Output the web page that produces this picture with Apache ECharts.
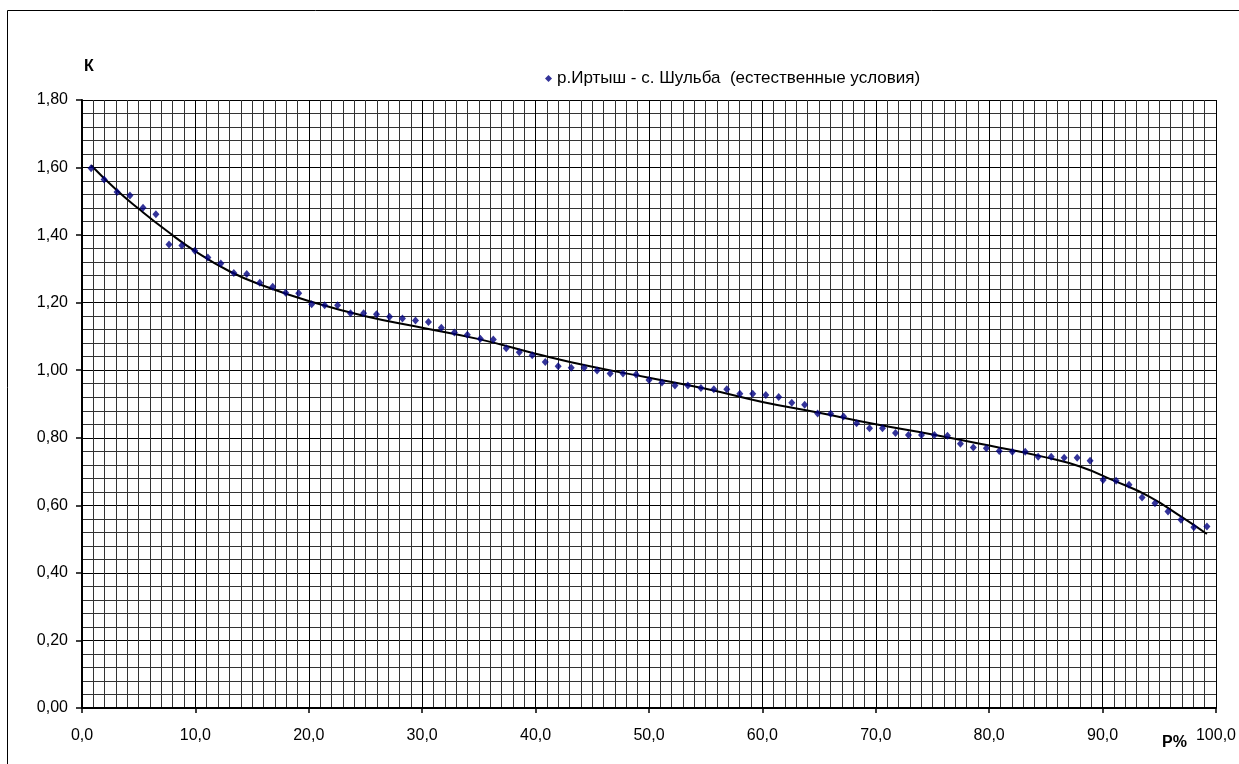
<!DOCTYPE html>
<html>
<head>
<meta charset="utf-8">
<script src="https://cdn.jsdelivr.net/npm/echarts@6/dist/echarts.min.js"></script>
<style>
html, body { margin: 0; padding: 0; background: #fff; }
#chart { width: 1239px; height: 764px; }
</style>
</head>
<body>
<div id="chart"></div>
<script>
var seriesName = 'р.Иртыш - с. Шульба  (естественные условия)';

// обеспеченность P, %
var pValues = [
    0.80, 1.95, 3.09, 4.23, 5.38, 6.52, 7.67, 8.81, 9.95, 11.10,
    12.24, 13.39, 14.53, 15.68, 16.82, 17.96, 19.11, 20.25, 21.40, 22.54,
    23.68, 24.83, 25.97, 27.12, 28.26, 29.41, 30.55, 31.69, 32.84, 33.98,
    35.13, 36.27, 37.41, 38.56, 39.70, 40.85, 41.99, 43.14, 44.28, 45.42,
    46.57, 47.71, 48.86, 50.00, 51.14, 52.29, 53.43, 54.58, 55.72, 56.86,
    58.01, 59.15, 60.30, 61.44, 62.59, 63.73, 64.87, 66.02, 67.16, 68.31,
    69.45, 70.59, 71.74, 72.88, 74.03, 75.17, 76.32, 77.46, 78.60, 79.75,
    80.89, 82.04, 83.18, 84.32, 85.47, 86.61, 87.76, 88.90, 90.05, 91.19,
    92.33, 93.48, 94.62, 95.77, 96.91, 98.05, 99.20
];
// модульный коэффициент K
var kValues = [
    1.598, 1.565, 1.528, 1.517, 1.481, 1.462, 1.372, 1.369, 1.354, 1.334,
    1.316, 1.288, 1.285, 1.259, 1.247, 1.229, 1.228, 1.195, 1.192, 1.192,
    1.169, 1.169, 1.166, 1.158, 1.153, 1.147, 1.143, 1.126, 1.112, 1.105,
    1.093, 1.091, 1.065, 1.053, 1.044, 1.024, 1.012, 1.007, 1.007, 0.999,
    0.990, 0.990, 0.987, 0.971, 0.964, 0.955, 0.955, 0.947, 0.944, 0.944,
    0.930, 0.930, 0.927, 0.921, 0.904, 0.898, 0.872, 0.871, 0.863, 0.843,
    0.828, 0.828, 0.814, 0.808, 0.808, 0.808, 0.806, 0.782, 0.771, 0.769,
    0.761, 0.759, 0.759, 0.744, 0.744, 0.741, 0.741, 0.732, 0.675, 0.673,
    0.661, 0.623, 0.606, 0.582, 0.557, 0.535, 0.537
];

// линия тренда
var trendP = [0.8, 3, 5, 7.5, 10, 13, 16, 20, 25, 30, 35, 40, 45, 50, 55, 60, 65, 70, 75, 80, 85, 88, 91, 94, 97, 99.2];
var trendK = [1.607, 1.535, 1.478, 1.412, 1.352, 1.293, 1.25, 1.205, 1.16, 1.126, 1.092, 1.049, 1.01, 0.978, 0.945, 0.906, 0.874, 0.84, 0.81, 0.777, 0.742, 0.715, 0.673, 0.628, 0.565, 0.515];

var xMin = 0, xMax = 100, xStep = 10;
var yMin = 0, yMax = 1.8, yStep = 0.2;

var font = '"Liberation Sans", Arial, sans-serif';

var points = pValues.map(function (p, i) { return [p, kValues[i]]; });
var trend = trendP.map(function (p, i) { return [p, trendK[i]]; });

var myChart = echarts.init(document.getElementById('chart'));
var option = {
    backgroundColor: '#fff',
    animation: false,
    textStyle: { fontFamily: font },
    graphic: [
        {
            type: 'rect',
            z: -10,
            shape: { x: 7.5, y: 10.5, width: 1400, height: 900 },
            style: { fill: 'none', stroke: '#000', lineWidth: 1 }
        },
        {
            type: 'text',
            left: 84, top: 59,
            style: { text: 'К', font: 'bold 16px ' + font, fill: '#000' }
        },
        {
            type: 'text',
            left: 1162, top: 735,
            style: { text: 'P%', font: 'bold 16px ' + font, fill: '#000' }
        }
    ],
    legend: {
        data: [seriesName],
        left: 540,
        top: 65,
        itemWidth: 7,
        itemHeight: 7,
        itemGap: 4,
        textStyle: { fontSize: 17, color: '#000', fontFamily: font }
    },
    grid: {
        left: 82,
        right: 18,
        top: 100,
        bottom: 56
    },
    xAxis: {
        type: 'value',
        min: xMin,
        max: xMax,
        interval: xStep,
        axisLine: { show: true, lineStyle: { color: '#000', width: 2 } },
        axisTick: { show: true, inside: false, length: 5, lineStyle: { color: '#000', width: 1.5 } },
        axisLabel: {
            margin: 20,
            fontSize: 16,
            color: '#000',
            fontFamily: font,
            formatter: function (v) { return v.toFixed(1).replace('.', ','); }
        },
        splitLine: { show: true, lineStyle: { color: '#000', width: 1 } },
        minorTick: { show: false, splitNumber: 10 },
        minorSplitLine: { show: true, lineStyle: { color: '#333', width: 1 } }
    },
    yAxis: {
        type: 'value',
        min: yMin,
        max: yMax,
        interval: yStep,
        axisLine: { show: true, lineStyle: { color: '#000', width: 2 } },
        axisTick: { show: true, inside: false, length: 6, lineStyle: { color: '#000', width: 1.5 } },
        axisLabel: {
            margin: 14,
            fontSize: 16,
            color: '#000',
            fontFamily: font,
            formatter: function (v) { return v.toFixed(2).replace('.', ','); }
        },
        splitLine: { show: true, lineStyle: { color: '#000', width: 1 } },
        minorTick: { show: false, splitNumber: 5 },
        minorSplitLine: { show: true, lineStyle: { color: '#333', width: 1 } }
    },
    series: [
        {
            name: 'trend',
            type: 'line',
            data: trend,
            smooth: true,
            showSymbol: false,
            symbol: 'none',
            lineStyle: { color: '#000', width: 2 },
            z: 3
        },
        {
            name: seriesName,
            type: 'scatter',
            data: points,
            symbol: 'diamond',
            symbolSize: [7, 8],
            itemStyle: { color: '#000080' },
            z: 4
        }
    ]
};
myChart.setOption(option);
window.onresize = function () {
    myChart.resize();
};
</script>
</body>
</html>
